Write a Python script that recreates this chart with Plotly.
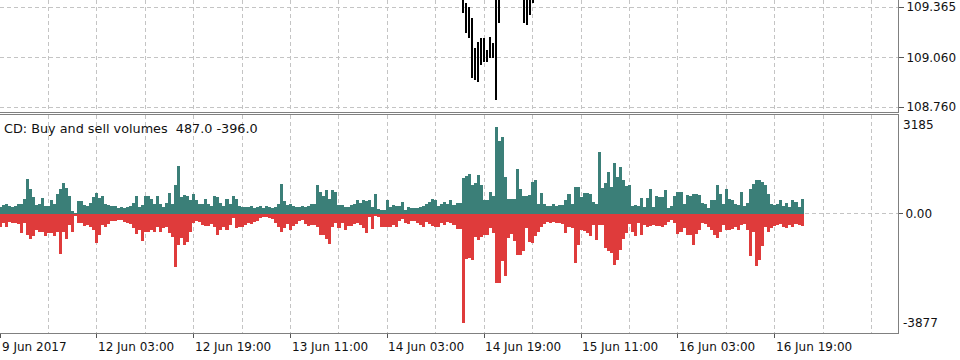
import plotly.graph_objects as go

# ---------------- data ----------------
buy = [235, 289, 321, 257, 235, 250, 321, 321, 503, 1145,
       824, 556, 289, 321, 535, 257, 257, 471, 321, 663,
       824, 1017, 856, 578, 107, 43, 428, 428, 289, 257,
       364, 556, 685, 524, 599, 321, 289, 257, 257, 182,
       214, 182, 235, 257, 364, 578, 235, 289, 578, 578,
       503, 321, 578, 321, 235, 364, 685, 321, 931, 1552,
       556, 610, 578, 471, 642, 449, 321, 321, 503, 321,
       257, 578, 556, 364, 257, 503, 321, 578, 503, 257,
       235, 214, 214, 257, 182, 235, 257, 182, 257, 235,
       182, 235, 321, 984, 428, 289, 321, 257, 214, 214,
       257, 235, 257, 321, 321, 931, 717, 578, 770, 503,
       792, 717, 289, 289, 235, 235, 289, 321, 449, 364,
       449, 428, 449, 214, 642, 150, 128, 128, 449, 235,
       289, 257, 257, 396, 128, 214, 182, 182, 182, 214,
       257, 321, 396, 503, 449, 257, 321, 396, 321, 449,
       289, 364, 364, 1177, 1220, 1305, 931, 1006, 1252, 931,
       471, 471, 717, 578, 2825, 2375, 2482, 1198, 503, 503,
       503, 1466, 824, 578, 578, 610, 1038, 1091, 321, 685,
       321, 257, 257, 321, 257, 289, 289, 449, 642, 321,
       877, 877, 556, 685, 685, 663, 396, 321, 2001, 845,
       1000, 1370, 880, 1650, 1200, 1540, 1090, 900, 930, 260,
       300, 257, 535, 214, 535, 824, 235, 578, 556, 556,
       792, 182, 257, 578, 717, 717, 342, 610, 578, 642,
       642, 610, 364, 321, 182, 449, 449, 952, 642, 321,
       824, 503, 471, 321, 289, 717, 257, 364, 824, 984,
       1113, 1091, 1038, 931, 663, 321, 289, 321, 449, 257,
       364, 235, 471, 396, 235, 487]

sell = [-407, -278, -407, -246, -278, -300, -321, -621, -300, -674,
        -813, -706, -514, -567, -567, -706, -600, -599, -706, -567,
        -1284, -567, -813, -353, -567, -64, -278, -278, -385, -353,
        -407, -514, -942, -674, -353, -428, -321, -214, -214, -193,
        -193, -246, -278, -321, -460, -642, -514, -856, -567, -567,
        -514, -567, -428, -567, -460, -407, -599, -728, -1712, -995,
        -781, -995, -888, -567, -300, -214, -246, -353, -385, -385,
        -321, -407, -674, -514, -428, -514, -353, -139, -460, -428,
        -428, -353, -300, -321, -246, -214, -139, -86, -100, -139,
        -171, -278, -407, -567, -450, -321, -514, -385, -321, -214,
        -193, -321, -385, -353, -353, -428, -674, -674, -813, -963,
        -428, -278, -460, -300, -514, -385, -385, -321, -278, -353,
        -460, -621, -86, -492, -64, -86, -407, -407, -407, -407,
        -353, -407, -214, -171, -278, -321, -214, -214, -278, -353,
        -407, -246, -321, -385, -428, -407, -300, -353, -246, -300,
        -353, -492, -492, -3531, -1455, -1423, -1498, -728, -835, -749,
        -674, -674, -460, -599, -2226, -2247, -1530, -2012, -781, -642,
        -856, -1316, -1316, -1209, -460, -920, -942, -700, -567, -407,
        -321, -246, -300, -246, -278, -278, -321, -621, -407, -460,
        -1584, -995, -514, -535, -621, -706, -353, -835, -353, -353,
        -1102, -1209, -1263, -1637, -1477, -1156, -800, -621, -321, -567,
        -706, -278, -674, -353, -428, -385, -353, -385, -385, -407,
        -353, -246, -193, -278, -642, -567, -460, -674, -674, -995,
        -642, -514, -278, -321, -407, -514, -674, -781, -567, -353,
        -514, -514, -492, -407, -514, -353, -321, -514, -1370, -567,
        -1669, -1498, -1049, -407, -567, -460, -385, -353, -321, -407,
        -460, -353, -407, -321, -350, -396]

# visible price bars (M30 bar index, high, low)
price_idx = [153, 154, 155, 156, 157, 158, 159, 160, 161, 162, 163, 164, 165, 173, 174, 175, 176]
price_high = [109.46, 109.391, 109.367, 109.300, 109.120, 109.156, 109.180, 109.180, 109.108,
              109.186, 109.150, 109.46, 109.46, 109.46, 109.46, 109.46, 109.46]
price_low = [109.332, 109.210, 109.180, 108.939, 108.927, 108.915, 109.017, 109.035, 109.035,
             109.059, 109.059, 108.802, 109.270, 109.270, 109.258, 109.319, 109.391]

price_ticks = [108.760, 109.060, 109.365]
price_tick_text = ["108.760", "109.060", "109.365"]

label_idx = [0, 32, 64, 96, 128, 160, 192, 224, 256]
label_text = ["9 Jun 2017", "12 Jun 03:00", "12 Jun 19:00", "13 Jun 11:00", "14 Jun 03:00",
              "14 Jun 19:00", "15 Jun 11:00", "16 Jun 03:00", "16 Jun 19:00"]
grid_minor_idx = [16, 48, 80, 112, 144, 176, 208, 240, 272, 288]
grid_all_idx = [16, 32, 48, 64, 80, 96, 112, 128, 144, 160, 176, 192, 208, 224, 240, 256, 272, 288]

vol_max_label = 3185
vol_min_label = -3877
indicator_title = "CD: Buy and sell volumes\u00a0 487.0 -396.0"

# ---------------- style ----------------
GREEN = "#3b7f78"
RED = "#df3b3b"
GRID = "#c4c4c4"
AXIS = "#808080"
FONT = "DejaVu Sans"
TXT = "#111111"
XR = [0, 296.7]

fig = go.Figure()

fig.add_trace(go.Bar(
    x=price_idx, y=[h - l for h, l in zip(price_high, price_low)], base=price_low,
    width=0.33, marker=dict(color="#000000", line=dict(width=0)),
    xaxis="x", yaxis="y", hoverinfo="skip"))

idx = list(range(len(buy)))
fig.add_trace(go.Bar(x=idx, y=buy, width=1.0, marker=dict(color=GREEN, line=dict(width=0)),
                     xaxis="x2", yaxis="y2", hoverinfo="skip"))
idx_s = list(range(len(sell)))
fig.add_trace(go.Bar(x=idx_s, y=sell, width=1.0, marker=dict(color=RED, line=dict(width=0)),
                     xaxis="x2", yaxis="y2", hoverinfo="skip"))

annotations = []
for i, t in zip(label_idx, label_text):
    annotations.append(dict(x=i, xref="x2", y=(360 - 349) / 360, yref="paper", text=t,
                            xanchor="left", yanchor="middle", showarrow=False,
                            xshift=0 if i == 0 else -1,
                            font=dict(family=FONT, size=12, color=TXT)))
annotations.append(dict(x=0, xref="paper", y=(360 - 129.5) / 360, yref="paper",
                        text=indicator_title, xanchor="left", yanchor="middle", showarrow=False,
                        xshift=2, font=dict(family=FONT, size=12.8, color=TXT)))
annotations.append(dict(x=1, xref="paper", y=vol_max_label, yref="y2", text=str(vol_max_label),
                        xanchor="left", yanchor="middle", showarrow=False, xshift=3, yshift=-10,
                        font=dict(family=FONT, size=12, color=TXT)))
annotations.append(dict(x=1, xref="paper", y=vol_min_label, yref="y2", text=str(vol_min_label),
                        xanchor="left", yanchor="middle", showarrow=False, xshift=3, yshift=10,
                        font=dict(family=FONT, size=12, color=TXT)))

fig.update_layout(
    width=960, height=360, margin=dict(l=0, r=62, t=0, b=0),
    paper_bgcolor="white", plot_bgcolor="white", showlegend=False,
    barmode="overlay", bargap=0,
    xaxis=dict(domain=[0, 1], anchor="y", range=XR, tickmode="array", tickvals=grid_all_idx,
               showticklabels=False, ticks="", showgrid=True, gridcolor=GRID, griddash="4px,3px",
               gridwidth=1, showline=True, linecolor=AXIS, linewidth=1, zeroline=False),
    yaxis=dict(domain=[(360 - 112.7) / 360, 1], anchor="x", side="right",
               range=[108.730, 109.409], tickmode="array", tickvals=price_ticks,
               ticktext=price_tick_text, ticks="outside", ticklen=5, tickcolor="#555555",
               showgrid=True, gridcolor=GRID, griddash="4px,3px", zeroline=False,
               showline=True, linecolor=AXIS, linewidth=1,
               tickfont=dict(family=FONT, size=12, color=TXT)),
    xaxis2=dict(domain=[0, 1], anchor="y2", range=XR, tickmode="array", tickvals=label_idx,
                showticklabels=False, ticks="outside", ticklen=4, tickcolor="#555555",
                showgrid=True, gridcolor=GRID, griddash="4px,3px", zeroline=False,
                minor=dict(tickmode="array", tickvals=grid_minor_idx, showgrid=True,
                           gridcolor=GRID, griddash="4px,3px", ticks=""),
                showline=True, linecolor=AXIS, linewidth=1, mirror=True),
    yaxis2=dict(domain=[(360 - 335.3) / 360, (360 - 115.3) / 360], anchor="x2", side="right",
                range=[-3877, 3210], tickmode="array", tickvals=[0], ticktext=["0.00"],
                ticks="outside", ticklen=4, tickcolor="#555555",
                showgrid=True, gridcolor=GRID, griddash="4px,3px", zeroline=False,
                showline=True, linecolor=AXIS, linewidth=1,
                tickfont=dict(family=FONT, size=12, color=TXT)),
    annotations=annotations,
)

fig.write_html("out.html")
